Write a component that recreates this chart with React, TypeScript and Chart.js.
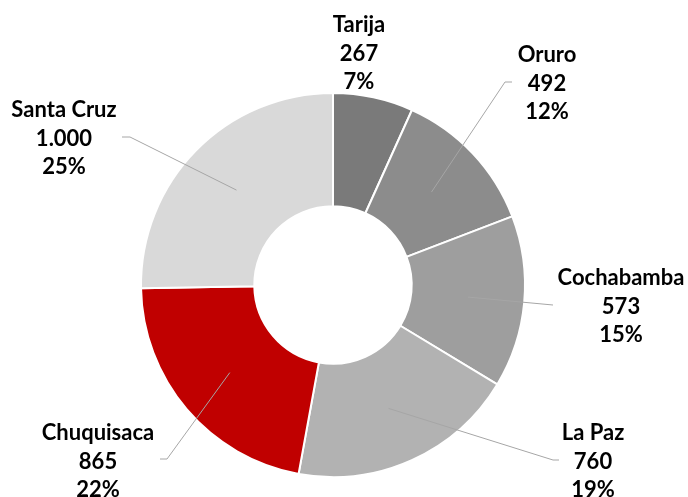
import React, { useEffect, useRef } from "react";
import { Chart, registerables } from "chart.js";

Chart.register(...registerables);

const categories = ["Tarija", "Oruro", "Cochabamba", "La Paz", "Chuquisaca", "Santa Cruz"];
const values = [267, 492, 573, 760, 865, 1000];
const valueLabels = ["267", "492", "573", "760", "865", "1.000"];
const percentLabels = ["7%", "12%", "15%", "19%", "22%", "25%"];
const colors = ["#7a7a7a", "#8c8c8c", "#9e9e9e", "#b2b2b2", "#c00000", "#d9d9d9"];

// label layout: text center and leader line points (elbow, end); null = no leader
const labelPos = [
  { x: 359, y: 25, elbow: null as null | [number, number], end: null as null | [number, number] },
  { x: 547, y: 55, elbow: [505, 82], end: [512, 82] },
  { x: 621, y: 278, elbow: [553, 305], end: [553, 305] },
  { x: 593, y: 433, elbow: [553, 460], end: [559, 460] },
  { x: 98, y: 433, elbow: [167, 459], end: [160, 459] },
  { x: 64, y: 110, elbow: [130, 137], end: [122, 137] },
];

const FONT = "bold 22px Lato, 'Open Sans', sans-serif";
const LINE_H = 28.5;

const labelsPlugin = {
  id: "outLabels",
  afterDatasetsDraw(chart: any) {
    const ctx = chart.ctx as CanvasRenderingContext2D;
    const meta = chart.getDatasetMeta(0);
    ctx.save();
    meta.data.forEach((arc: any, i: number) => {
      const p = arc.getProps(["x", "y", "startAngle", "endAngle", "innerRadius", "outerRadius"], true);
      const mid = (p.startAngle + p.endAngle) / 2;
      const r = (p.innerRadius + p.outerRadius) / 2;
      const sx = p.x + Math.cos(mid) * r;
      const sy = p.y + Math.sin(mid) * r;
      const lp = labelPos[i];
      if (lp.elbow && lp.end) {
        ctx.beginPath();
        ctx.strokeStyle = "#a6a6a6";
        ctx.lineWidth = 1;
        ctx.moveTo(sx, sy);
        ctx.lineTo(lp.elbow[0], lp.elbow[1]);
        ctx.lineTo(lp.end[0], lp.end[1]);
        ctx.stroke();
      }
      ctx.fillStyle = "#000000";
      ctx.font = FONT;
      ctx.textAlign = "center";
      ctx.textBaseline = "middle";
      ctx.fillText(categories[i], lp.x, lp.y);
      ctx.fillText(valueLabels[i], lp.x, lp.y + LINE_H);
      ctx.fillText(percentLabels[i], lp.x, lp.y + LINE_H * 2);
    });
    ctx.restore();
  },
};

export default function App() {
  const ref = useRef<HTMLCanvasElement | null>(null);
  useEffect(() => {
    document.body.style.margin = "0";
    const canvas = ref.current!;
    const chart = new Chart(canvas, {
      type: "doughnut",
      data: {
        labels: categories,
        datasets: [
          {
            data: values,
            backgroundColor: colors,
            borderColor: "#ffffff",
            borderWidth: 2,
          },
        ],
      },
      options: {
        responsive: false,
        animation: false,
        cutout: "41%",
        layout: { padding: { left: 140, right: 162, top: 92, bottom: 19 } },
        plugins: {
          legend: { display: false },
          tooltip: { enabled: false },
        },
      },
      plugins: [labelsPlugin],
    });
    return () => chart.destroy();
  }, []);
  return (
    <div style={{ width: 688, height: 497, background: "#fff" }}>
      <canvas ref={ref} width={688} height={497} style={{ display: "block" }} />
    </div>
  );
}
